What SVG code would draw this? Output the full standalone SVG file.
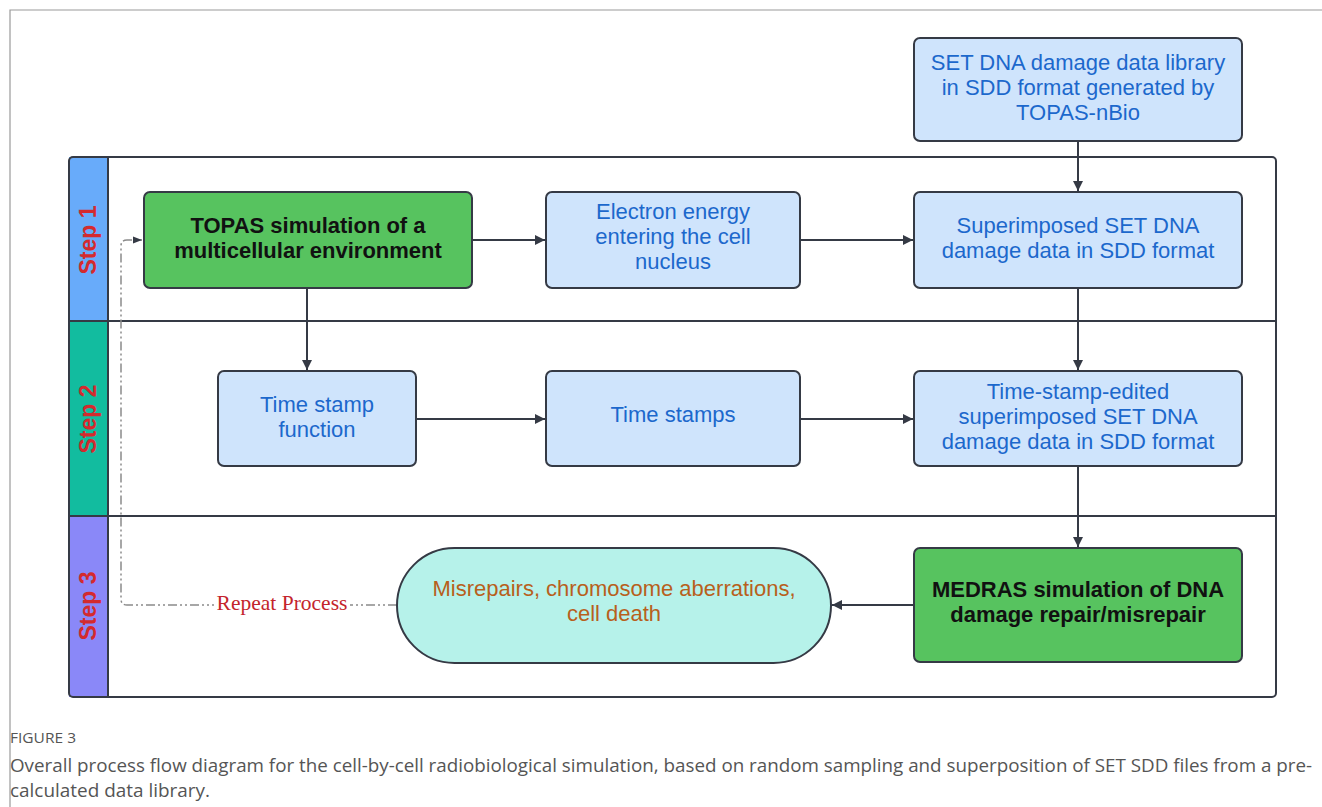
<svg xmlns="http://www.w3.org/2000/svg" width="1322" height="807" viewBox="0 0 1322 807">
<defs>
<marker id="arr" viewBox="0 0 10 10" refX="10" refY="5" markerWidth="10" markerHeight="10" markerUnits="userSpaceOnUse" orient="auto">
<path d="M0,0 L10,5 L0,10 Z" fill="#353a45"/>
</marker>
<marker id="arrd" viewBox="0 0 10 10" refX="10" refY="5" markerWidth="9" markerHeight="9" markerUnits="userSpaceOnUse" orient="auto">
<path d="M0,1 L10,5 L0,9 Z" fill="#353a45"/>
</marker>
<style>
.box{fill:#cfe4fc;stroke:#353a45;stroke-width:2}
.grn{fill:#57c35f;stroke:#353a45;stroke-width:2}
.bt{font-family:"Liberation Sans",Arial,sans-serif;font-size:22px;fill:#1c68cc;text-anchor:middle}
.gt{font-family:"Liberation Sans",Arial,sans-serif;font-size:22px;font-weight:bold;fill:#111;text-anchor:middle}
.st{font-family:"Liberation Sans",Arial,sans-serif;font-size:23px;font-weight:bold;fill:#d42a2e;text-anchor:middle}
.ln{fill:none;stroke:#353a45;stroke-width:2}
.con{fill:none;stroke:#353a45;stroke-width:2;marker-end:url(#arr)}
.cap{font-family:"Open Sans","Liberation Sans",sans-serif;fill:#555}
</style>
</defs>
<rect width="1322" height="807" fill="#fff"/>
<path d="M10,807 L10,10 L1322,10" fill="none" stroke="#9a9a9a" stroke-width="1.2"/>

<g id="swimlanes">
<rect x="69" y="157" width="39" height="164" fill="#68abfa"/>
<rect x="69" y="321" width="39" height="195" fill="#12bc9f"/>
<rect x="69" y="516" width="39" height="181" fill="#8a88f8"/>
<rect x="69" y="157" width="1207" height="540" rx="4" class="ln"/>
<line x1="108" y1="157" x2="108" y2="697" class="ln"/>
<line x1="69" y1="321" x2="1276" y2="321" class="ln"/>
<line x1="69" y1="516" x2="1276" y2="516" class="ln"/>
<text class="st" transform="translate(96,240) rotate(-90)">Step 1</text>
<text class="st" transform="translate(96,419) rotate(-90)">Step 2</text>
<text class="st" transform="translate(96,606) rotate(-90)">Step 3</text>
</g>

<g id="connectors">
<line x1="472" y1="240" x2="545" y2="240" class="con"/>
<line x1="800" y1="240" x2="913" y2="240" class="con"/>
<line x1="1078" y1="141" x2="1078" y2="191" class="con"/>
<line x1="1078" y1="287" x2="1078" y2="370" class="con"/>
<line x1="307" y1="288" x2="307" y2="370" class="con"/>
<line x1="416" y1="419" x2="545" y2="419" class="con"/>
<line x1="800" y1="419" x2="913" y2="419" class="con"/>
<line x1="1078" y1="466" x2="1078" y2="547" class="con"/>
<line x1="914" y1="605" x2="832" y2="605" class="con"/>
<path d="M397,605 L127,605 Q121,605 121,599 L121,246 Q121,240 127,240 L142,240" fill="none" stroke="#8a8a8a" stroke-width="1.5" stroke-dasharray="9 3 2 3 2 3" marker-end="url(#arrd)"/>
<rect x="214" y="592" width="136" height="24" fill="#fff"/>
<text x="282" y="610" font-family="'Liberation Serif','Times New Roman',serif" font-size="21.5" fill="#c4242c" text-anchor="middle">Repeat Process</text>
</g>

<g id="n-topas">
<rect x="144" y="192" width="328" height="96" rx="6" class="grn"/>
<text class="gt" x="308" y="233">TOPAS simulation of a</text>
<text class="gt" x="308" y="258">multicellular environment</text>
</g>
<g id="n-electron">
<rect x="546" y="192" width="254" height="96" rx="6" class="box"/>
<text class="bt" x="673" y="219">Electron energy</text>
<text class="bt" x="673" y="244">entering the cell</text>
<text class="bt" x="673" y="269">nucleus</text>
</g>
<g id="n-library">
<rect x="914" y="38" width="328" height="103" rx="6" class="box"/>
<text class="bt" x="1078" y="70">SET DNA damage data library</text>
<text class="bt" x="1078" y="95">in SDD format generated by</text>
<text class="bt" x="1078" y="120">TOPAS-nBio</text>
</g>
<g id="n-superimposed">
<rect x="914" y="192" width="328" height="96" rx="6" class="box"/>
<text class="bt" x="1078" y="233">Superimposed SET DNA</text>
<text class="bt" x="1078" y="258">damage data in SDD format</text>
</g>
<g id="n-tsfunction">
<rect x="218" y="371" width="198" height="95" rx="6" class="box"/>
<text class="bt" x="317" y="412">Time stamp</text>
<text class="bt" x="317" y="437">function</text>
</g>
<g id="n-timestamps">
<rect x="546" y="371" width="254" height="95" rx="6" class="box"/>
<text class="bt" x="673" y="422">Time stamps</text>
</g>
<g id="n-edited">
<rect x="914" y="371" width="328" height="95" rx="6" class="box"/>
<text class="bt" x="1078" y="399">Time-stamp-edited</text>
<text class="bt" x="1078" y="424">superimposed SET DNA</text>
<text class="bt" x="1078" y="449">damage data in SDD format</text>
</g>
<g id="n-medras">
<rect x="914" y="548" width="328" height="114" rx="6" class="grn"/>
<text class="gt" x="1078" y="597">MEDRAS simulation of DNA</text>
<text class="gt" x="1078" y="622">damage repair/misrepair</text>
</g>
<g id="n-outcome">
<rect x="397" y="548" width="434" height="115" rx="57.5" fill="#b6f2ea" stroke="#353a45" stroke-width="2"/>
<text x="614" y="596" font-family="'Liberation Sans',Arial,sans-serif" font-size="22" fill="#b8601c" text-anchor="middle">Misrepairs, chromosome aberrations,</text>
<text x="614" y="621" font-family="'Liberation Sans',Arial,sans-serif" font-size="22" fill="#b8601c" text-anchor="middle">cell death</text>
</g>

<g id="caption">
<text class="cap" x="10" y="743" font-size="15" fill="#666" textLength="66" lengthAdjust="spacingAndGlyphs">FIGURE 3</text>
<text class="cap" x="10" y="772" font-size="18" textLength="1302" lengthAdjust="spacingAndGlyphs">Overall process flow diagram for the cell-by-cell radiobiological simulation, based on random sampling and superposition of SET SDD files from a pre-</text>
<text class="cap" x="10" y="797" font-size="18" textLength="200" lengthAdjust="spacingAndGlyphs">calculated data library.</text>
</g>
</svg>
